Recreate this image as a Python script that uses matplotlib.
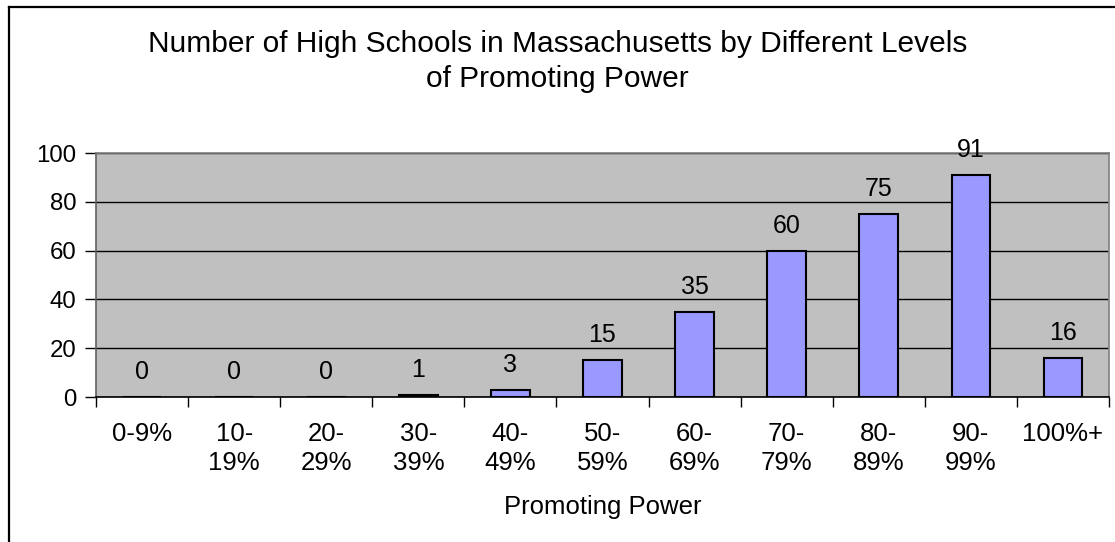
import matplotlib
matplotlib.use("Agg")
import matplotlib.pyplot as plt
from matplotlib.lines import Line2D

categories = ["0-9%", "10-\n19%", "20-\n29%", "30-\n39%", "40-\n49%", "50-\n59%",
              "60-\n69%", "70-\n79%", "80-\n89%", "90-\n99%", "100%+"]
counts = [0, 0, 0, 1, 3, 15, 35, 60, 75, 91, 16]
yticks = [0, 20, 40, 60, 80, 100]

plt.rcParams['font.family'] = ['Liberation Sans', 'DejaVu Sans']

W, H = 1115, 542
fig = plt.figure(figsize=(W / 100, H / 100), dpi=100)
fig.patch.set_facecolor('white')

# outer border (left and top visible)
fig.add_artist(Line2D([9 / W, 9 / W], [0, 1 - 7 / H], color='black', lw=1.6,
                      transform=fig.transFigure))
fig.add_artist(Line2D([9 / W, 1], [1 - 7 / H, 1 - 7 / H], color='black', lw=1.6,
                      transform=fig.transFigure))

ax = fig.add_axes([96 / W, 1 - 397 / H, (1109 - 96) / W, (397 - 153) / H])
ax.set_facecolor('#C0C0C0')

x = list(range(len(categories)))
ax.bar(x, counts, width=0.42, color='#9999FF', edgecolor='black', linewidth=1.5, zorder=3)

ax.set_xlim(-0.5, len(categories) - 0.5)
ax.set_ylim(0, 100)
ax.set_yticks(yticks)
ax.set_yticklabels([str(v) for v in yticks], fontsize=17.3)
ax.yaxis.grid(True, color='black', linewidth=1.0, zorder=1)
ax.set_axisbelow(True)

ax.set_xticks(x)
ax.set_xticklabels(categories, fontsize=18.5, linespacing=1.25, va='top')
ax.tick_params(axis='x', which='major', length=0, pad=18)
ax.set_xticks([i - 0.5 for i in range(len(categories) + 1)], minor=True)
ax.tick_params(axis='x', which='minor', length=7, width=1, color='black', direction='out')
ax.tick_params(axis='y', length=8, width=1, color='black', direction='out', pad=6)

for s in ['top', 'right']:
    ax.spines[s].set_color('#808080')
    ax.spines[s].set_linewidth(1.2)
ax.spines['left'].set_color('#606060')
ax.spines['left'].set_linewidth(1.2)
ax.spines['bottom'].set_color('black')
ax.spines['bottom'].set_linewidth(1.2)

for xi, v in zip(x, counts):
    ax.annotate(str(v), (xi, v), xytext=(0, 18), textcoords='offset points',
                ha='center', va='center', fontsize=18)

ax.set_xlabel("Promoting Power", fontsize=18.5)
ax.xaxis.set_label_coords(0.5, -0.402)

fig.text(0.5, 1 - 61.5 / H,
         "Number of High Schools in Massachusetts by Different Levels\nof Promoting Power",
         ha='center', va='center', fontsize=21.5, linespacing=1.3)

fig.savefig("out.png", dpi=100)
